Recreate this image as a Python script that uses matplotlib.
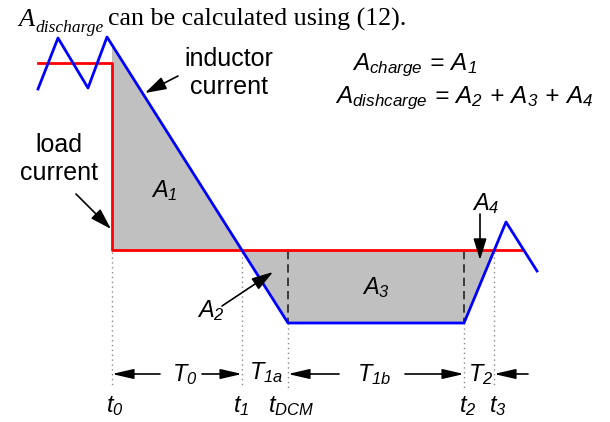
import matplotlib
matplotlib.use("Agg")
import matplotlib.pyplot as plt

plt.rcParams['font.family'] = ['Liberation Sans', 'DejaVu Sans']
plt.rcParams['mathtext.fontset'] = 'custom'
plt.rcParams['mathtext.it'] = 'Liberation Sans:italic'
plt.rcParams['mathtext.rm'] = 'Liberation Sans:italic'
plt.rcParams['mathtext.default'] = 'it'

# waveform vertices (pixel coords of the sketch, y grows downwards)
inductor_x = [38, 58, 88, 107, 288, 464, 506, 537]
inductor_y = [89, 38, 88, 37, 323, 323, 222, 271]
load_x = [38, 112, 112, 523]
load_y = [63, 63, 250, 250]

charge_x = [112, 242.4, 112]
charge_y = [45, 250, 250]
discharge_x = [242.4, 288, 464, 494]
discharge_y = [250, 323, 323, 250]

# time instants and labels
t_x = [112, 242, 288, 464, 494]
t_labels = [r'$t_0$', r'$t_1$', r'$t_{DCM}$', r'$t_2$', r'$t_3$']
t_label_x = [115, 241, 291, 468, 498]
t_top = [252, 252, 323, 323, 252]

fig = plt.figure(figsize=(6.1, 4.22), dpi=100)
ax = fig.add_axes([0, 0, 1, 1])
ax.set_xlim(0, 610)
ax.set_ylim(422, 0)
ax.axis('off')

ax.fill(charge_x, charge_y, color='#c0c0c0', lw=0)
ax.fill(discharge_x, discharge_y, color='#c0c0c0', lw=0)

for x, top in zip(t_x, t_top):
    ax.plot([x, x], [top, 388], color='#888888', lw=1, ls=(0, (1, 2.5)))
for x in [288, 464]:
    ax.plot([x, x], [251, 323], color='#222222', lw=1.2, ls=(0, (5, 3)))

ax.plot(load_x, load_y, color='#ff0000', lw=2)
ax.plot(inductor_x, inductor_y, color='#0000ff', lw=2)

def arrow(tail, head, hw=0.2):
    ax.annotate('', xy=head, xytext=tail,
                arrowprops=dict(arrowstyle=f'-|>,head_length=0.65,head_width={hw}',
                                color='black', lw=1.2, shrinkA=0, shrinkB=0,
                                mutation_scale=20))

# text labels
ax.text(229, 73, 'inductor\ncurrent', ha='center', va='center', fontsize=18,
        linespacing=1.25)
arrow((178, 76), (145, 93))
ax.text(59, 159, 'load\ncurrent', ha='center', va='center', fontsize=18,
        linespacing=1.25)
arrow((76, 194), (111, 229))

lab = dict(ha='center', va='center', fontsize=17)
ax.text(164, 191, r'$A_1$', **lab)
ax.text(211, 311, r'$A_2$', **lab)
arrow((222, 306), (273, 272))
ax.text(376, 288, r'$A_3$', **lab)
ax.text(486, 204, r'$A_4$', **lab)
arrow((480, 214), (480, 260))

ax.text(352, 65, r'$A_{charge}\,=\,A_1$', ha='left', va='center', fontsize=17.5)
ax.text(335, 98, r'$A_{dishcarge}\,=\,A_2\,+\,A_3\,+\,A_4$', ha='left',
        va='center', fontsize=17.5)

# interval arrows
arrow((160, 374), (112, 374), 0.15)
ax.text(185, 375, r'$T_0$', **lab)
arrow((202, 374), (242, 374), 0.15)
ax.text(266, 373, r'$T_{1a}$', **lab)
arrow((339, 374), (288, 374), 0.15)
ax.text(374, 375, r'$T_{1b}$', **lab)
arrow((405, 374), (464, 374), 0.15)
ax.text(481, 375, r'$T_2$', **lab)
arrow((528, 374), (494, 374), 0.15)

for lx, s in zip(t_label_x, t_labels):
    ax.text(lx, 406, s, **lab)

# heading line in serif
ax.text(18, 26, 'A', fontsize=19, fontstyle='italic', family='Liberation Serif',
        va='baseline')
ax.text(35, 32, 'discharge', fontsize=12.5, fontstyle='italic',
        family='Liberation Serif', va='baseline')
ax.text(108, 26, 'can be calculated using (12).', fontsize=18.7,
        family='Liberation Serif', va='baseline')

fig.savefig('out.png', dpi=100)
